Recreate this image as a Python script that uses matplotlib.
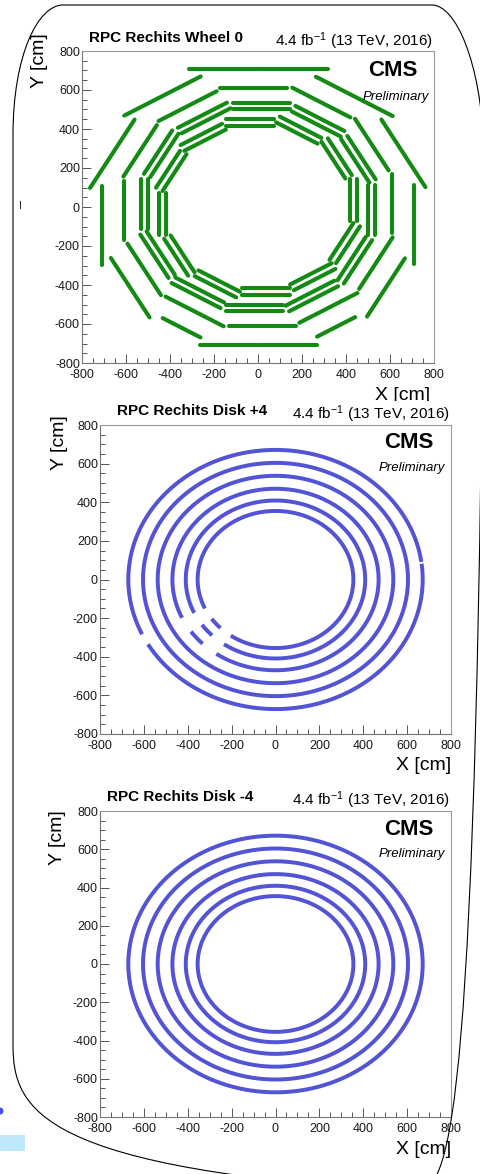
import numpy as np
import matplotlib
matplotlib.use("Agg")
import matplotlib.pyplot as plt
from matplotlib.ticker import MultipleLocator, FixedLocator
from matplotlib.path import Path
from matplotlib.patches import PathPatch, Rectangle, Circle

plt.rcParams['font.family'] = ['Liberation Sans', 'DejaVu Sans']
plt.rcParams['axes.unicode_minus'] = False
plt.rcParams['mathtext.fontset'] = 'custom'
plt.rcParams['mathtext.rm'] = 'Liberation Sans'
plt.rcParams['mathtext.it'] = 'Liberation Sans:italic'
plt.rcParams['mathtext.bf'] = 'Liberation Sans:bold'

# ------------------------------------------------------------------ data
panel_titles = ["RPC Rechits Wheel 0", "RPC Rechits Disk +4", "RPC Rechits Disk -4"]
lumi_label = "4.4 fb$^{-1}$ (13 TeV, 2016)"
experiment_label = "CMS"
status_label = "Preliminary"
x_label = "X [cm]"
y_label = "Y [cm]"
axis_ticks = [-800, -600, -400, -200, 0, 200, 400, 600, 800]

# Wheel 0: barrel layers, radial distance of each chamber plane (cm)
# and extent of the chambers along the sector face (cm, counter-clockwise)
sector_phi = [0, 30, 60, 90, 120, 150, 180, 210, 240, 270, 300, 330]
barrel_layers = ["RB1in", "RB1out", "RB2in", "RB2out", "RB3"]
barrel_radius = [417, 451, 501, 534, 608]
barrel_t_start = [-72, -72, -145, -145, -134]
barrel_t_end = [146, 146, 112, 112, 171]

rb4_radius = 710
rb4_phi = [0, 30, 60, 90, 90, 120, 150, 180, 210, 240, 270, 270, 300, 330]
rb4_t_start = [-294, -292, -297, -318, 2, -109, -108, -108, -108, -90, -263, 3, -100, -239]
rb4_t_end = [114, 108, 106, -4, 313, 292, 297, 299, 244, 108, -3, 267, 100, 106]

# Disks: ring radii (cm) and missing angular ranges (deg)
disk_radius = [671, 604, 537, 470, 409, 355]
diskp4_gap_start = [[7.0, 205.0], [], [], [205.0, 225.0], [205.0, 225.0], [205.0, 225.0]]
diskp4_gap_end = [[7.8, 210.0], [], [], [215.0, 235.0], [215.0, 235.0], [215.0, 235.0]]
diskm4_gap_start = [[], [], [], [], [], []]
diskm4_gap_end = [[], [], [], [], [], []]

GREEN = '#138a13'
BLUE = '#5353d6'

# ------------------------------------------------------------------ layout
W, H = 481, 1174
fig = plt.figure(figsize=(W / 100, H / 100), dpi=100)
fig.patch.set_facecolor('white')


def px_box(l, t, r, b):
    return [l / W, 1 - b / H, (r - l) / W, (b - t) / H]


panel_boxes = [(82, 51, 434, 363), (100, 425, 451, 734), (100, 811, 451, 1117)]


def style_axes(ax):
    ax.set_xlim(-800, 800)
    ax.set_ylim(-800, 800)
    ax.xaxis.set_major_locator(FixedLocator(axis_ticks))
    ax.yaxis.set_major_locator(FixedLocator(axis_ticks))
    ax.xaxis.set_minor_locator(MultipleLocator(50))
    ax.yaxis.set_minor_locator(MultipleLocator(50))
    ax.tick_params(which='both', direction='in', top=False, right=False,
                   color='#555555', width=0.7, labelsize=9, labelcolor='#1a1a1a')
    ax.tick_params(which='major', length=6.5)
    ax.tick_params(which='minor', length=3.4)
    ax.tick_params(axis='x', which='major', pad=4.2)
    ax.tick_params(axis='y', which='major', pad=1.5)
    for s in ['left', 'bottom']:
        ax.spines[s].set_color('#777777')
        ax.spines[s].set_linewidth(0.8)
    for s in ['top', 'right']:
        ax.spines[s].set_color('#9a9a9a')
        ax.spines[s].set_linewidth(0.8)


axes = [fig.add_axes(px_box(*b)) for b in panel_boxes]
for ax in axes:
    style_axes(ax)

# --- Wheel 0 chambers
ax = axes[0]


def draw_chamber(ax, radius, phi_deg, t0, t1, color):
    phi = np.deg2rad(phi_deg)
    n = np.array([np.cos(phi), np.sin(phi)])
    tv = np.array([-np.sin(phi), np.cos(phi)])
    p0 = radius * n + t0 * tv
    p1 = radius * n + t1 * tv
    ax.plot([p0[0], p1[0]], [p0[1], p1[1]], color=color, lw=2.95,
            solid_capstyle='round')


for r, ts, te in zip(barrel_radius, barrel_t_start, barrel_t_end):
    for phi in sector_phi:
        draw_chamber(ax, r, phi, ts, te, GREEN)
for phi, ts, te in zip(rb4_phi, rb4_t_start, rb4_t_end):
    draw_chamber(ax, rb4_radius, phi, ts, te, GREEN)

# --- Disk rings


def draw_rings(ax, radii, gstarts, gends):
    theta = np.linspace(0.0, 360.0, 3601)
    for r, gs, ge in zip(radii, gstarts, gends):
        mask = np.zeros_like(theta, dtype=bool)
        for a, b in zip(gs, ge):
            mask |= (theta > a) & (theta < b)
        th = np.deg2rad(theta)
        x = r * np.cos(th)
        y = r * np.sin(th)
        x[mask] = np.nan
        y[mask] = np.nan
        ax.plot(x, y, color=BLUE, lw=2.85, solid_capstyle='butt')


draw_rings(axes[1], disk_radius, diskp4_gap_start, diskp4_gap_end)
draw_rings(axes[2], disk_radius, diskm4_gap_start, diskm4_gap_end)

# ------------------------------------------------------------------ overlay (texts & frame)
ov = fig.add_axes([0, 0, 1, 1], zorder=10)
ov.set_xlim(0, W)
ov.set_ylim(H, 0)
ov.axis('off')
ov.patch.set_alpha(0)

text_pos = [
    dict(title=(89, 38), lumi=(433, 41), cms=(392.5, 71), prel=(396, 97), yl=(40, 33), xl=(430, 396)),
    dict(title=(117, 411), lumi=(450, 414.5), cms=(408.5, 443), prel=(411.5, 468.5), yl=(60, 415), xl=(451, 765)),
    dict(title=(107, 797), lumi=(450, 800.5), cms=(408.5, 829.5), prel=(411.5, 854), yl=(58, 810), xl=(451, 1150)),
]

for i, (title, tp) in enumerate(zip(panel_titles, text_pos)):
    ov.text(*tp['title'], title, fontsize=11, fontweight='bold', ha='left', va='center', zorder=5)
    ov.text(*tp['lumi'], lumi_label, fontsize=11, ha='right', va='center', zorder=5)
    ov.text(*tp['cms'], experiment_label, fontsize=16, fontweight='bold', ha='center', va='center', zorder=5)
    ov.text(*tp['prel'], status_label, fontsize=9.5, style='italic', ha='center', va='center', zorder=5)
    ov.text(*tp['yl'], y_label, fontsize=14, rotation=90, ha='center', va='top', zorder=5)
    xt = ov.text(*tp['xl'], x_label, fontsize=14, ha='right', va='center', zorder=1)
    if i == 0:
        # the top panel's x-axis title is partly hidden behind the middle panel
        clip = Rectangle((0, 0), W, 401, transform=ov.transData)
        xt.set_clip_on(True)
        xt.set_clip_path(clip)

# rounded frame of the slide
verts = [
    (63, 5), (432, 5),
    (455, 5), (481, 60), (484, 150),
    (484, 1070),
    (478, 1130), (450, 1180), (420, 1192),
    (80, 1192),
    (40, 1170), (13, 1110), (13, 1045),
    (13, 135),
    (13, 55), (38, 5), (63, 5),
]
codes = [Path.MOVETO, Path.LINETO,
         Path.CURVE4, Path.CURVE4, Path.CURVE4,
         Path.LINETO,
         Path.CURVE4, Path.CURVE4, Path.CURVE4,
         Path.LINETO,
         Path.CURVE4, Path.CURVE4, Path.CURVE4,
         Path.LINETO,
         Path.CURVE4, Path.CURVE4, Path.CURVE4]
ov.add_patch(PathPatch(Path(verts, codes), facecolor='none', edgecolor='black', lw=0.8, zorder=4))

# small slide artefacts
ov.add_patch(Rectangle((0, 1135), 25, 16, facecolor='#bfe8fa', edgecolor='none', zorder=4))
ov.add_patch(Circle((0, 1111), 3.5, facecolor='#4a4aff', edgecolor='none', zorder=4))
ov.plot([20.5, 20.5], [201, 208], color='#333333', lw=0.8, zorder=4)

fig.savefig('out.png', dpi=100, facecolor='white')
